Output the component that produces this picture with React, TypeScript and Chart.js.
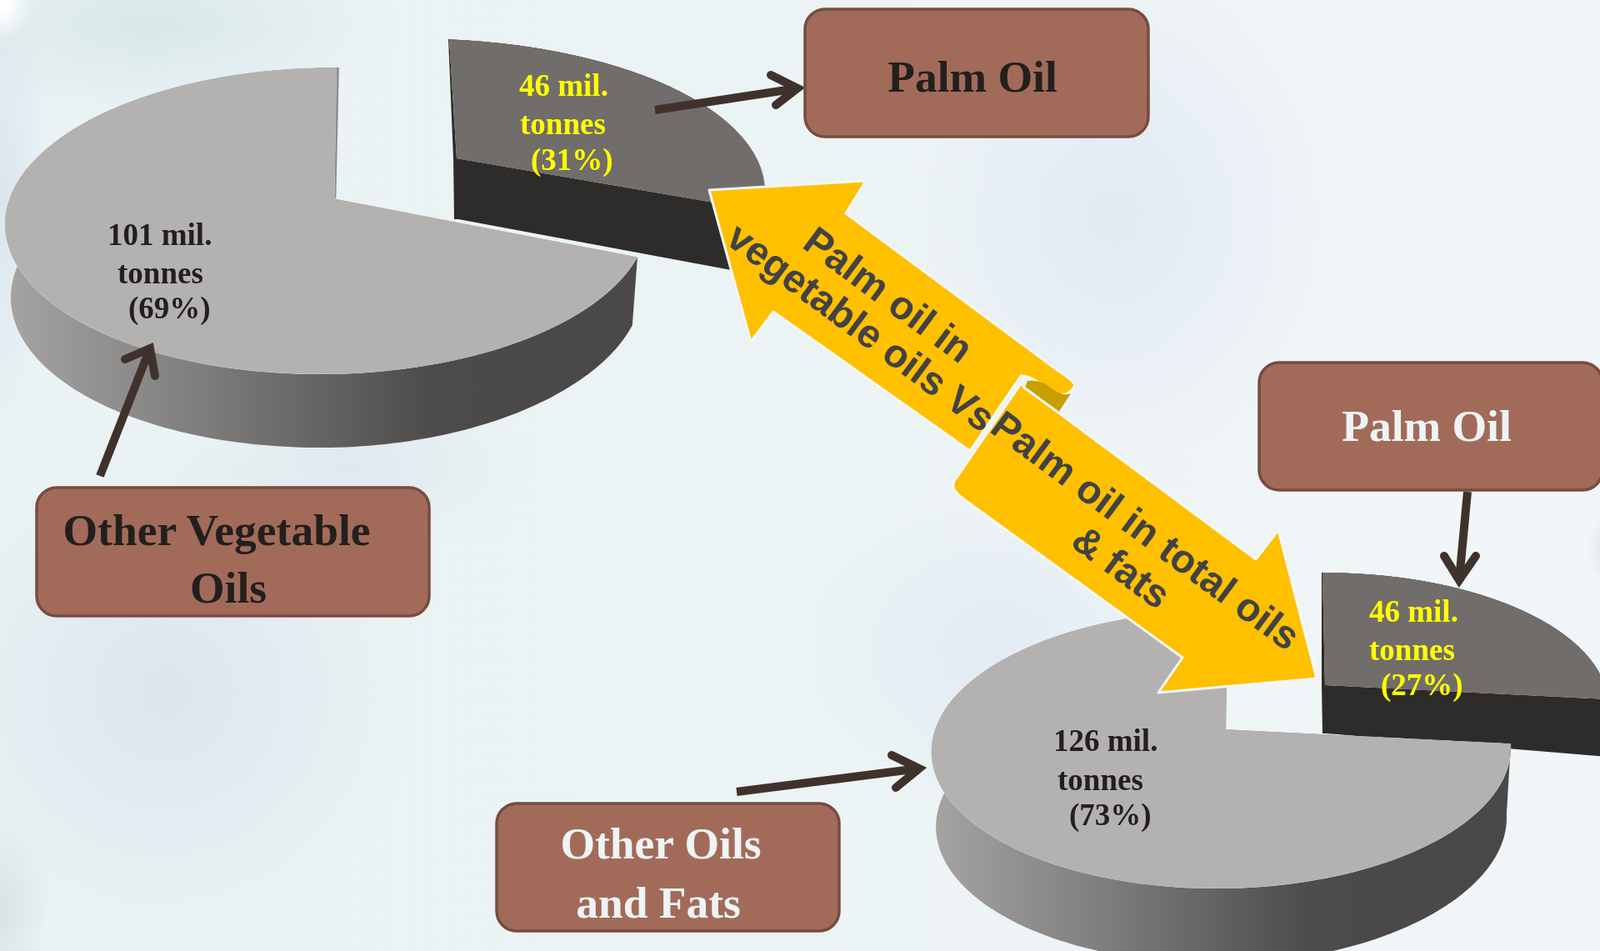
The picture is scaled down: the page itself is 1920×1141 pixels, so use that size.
import React, { useEffect, useRef } from "react";
import { Chart, registerables } from "chart.js";

Chart.register(...registerables);

// Production figures, million tonnes
const vegCategories = ["Palm Oil", "Other Vegetable Oils"];
const vegValues = [46, 101];
const totalCategories = ["Palm Oil", "Other Oils and Fats"];
const totalValues = [46, 126];

const WIDTH = 1920;
const HEIGHT = 1141;
const SIZE = 1400; // pie canvas edge, before the tilt is applied
const RADIUS = 420;

type Pt = [number, number];

// Least-squares projective map from the unit pie plane to page pixels.
function fitHomography(src: Pt[], dst: Pt[]): number[] {
  const rows: number[][] = [];
  src.forEach(([x, y], i) => {
    const [u, v] = dst[i];
    rows.push([x, y, 1, 0, 0, 0, -u * x, -u * y, u]);
    rows.push([0, 0, 0, x, y, 1, -v * x, -v * y, v]);
  });
  const m: number[][] = [];
  for (let a = 0; a < 8; a++) {
    const row: number[] = [];
    for (let b = 0; b < 9; b++) {
      let sum = 0;
      for (const r of rows) sum += r[a] * r[b];
      row.push(sum);
    }
    m.push(row);
  }
  for (let c = 0; c < 8; c++) {
    let p = c;
    for (let r = c + 1; r < 8; r++) if (Math.abs(m[r][c]) > Math.abs(m[p][c])) p = r;
    [m[c], m[p]] = [m[p], m[c]];
    for (let r = 0; r < 8; r++) {
      if (r === c) continue;
      const f = m[r][c] / m[c][c];
      for (let k = c; k < 9; k++) m[r][k] -= f * m[c][k];
    }
  }
  return [...m.map((row, i) => row[8] / row[i]), 1];
}

const apply = (h: number[], x: number, y: number): Pt => {
  const w = h[6] * x + h[7] * y + h[8];
  return [(h[0] * x + h[1] * y + h[2]) / w, (h[3] * x + h[4] * y + h[5]) / w];
};

const polar = (deg: number): Pt => [Math.sin((deg * Math.PI) / 180), -Math.cos((deg * Math.PI) / 180)];

interface PieLayout {
  values: number[];
  categories: string[];
  // page positions of the large slice: apex, top, bottom, left, cut edge
  apex: Pt;
  top: Pt;
  bottom: Pt;
  left: Pt;
  edge: Pt;
  // page positions of the pulled-out slice: apex, top, middle of the arc, far corner
  sApex: Pt;
  sTop: Pt;
  sMid: Pt;
  sEnd: Pt;
  sDepth: number;
  sDepthFar: number;
  sEdge: Pt;
  depth: number;
  depthRight: number;
  shrink: number;
  sliver: boolean;
  gradient: [number, number];
}

const vegLayout: PieLayout = {
  values: vegValues,
  categories: vegCategories,
  apex: [401, 239],
  top: [404, 81],
  bottom: [398, 449],
  left: [11, 240],
  edge: [765, 308],
  sApex: [548, 190],
  sTop: [539, 47],
  sMid: [817, 110],
  sEnd: [915, 253],
  sDepth: 73,
  sDepthFar: 78,
  sEdge: [539, 47],
  depth: 88,
  depthRight: 82,
  shrink: 0.983,
  sliver: true,
  gradient: [20, 640],
};

const totalLayout: PieLayout = {
  values: totalValues,
  categories: totalCategories,
  apex: [1471, 875],
  top: [1474, 732],
  bottom: [1468, 1066],
  left: [1122, 876],
  edge: [1813, 892],
  sApex: [1590, 822],
  sTop: [1587, 687],
  sMid: [1815, 727],
  sEnd: [1930, 839],
  sDepth: 58,
  sDepthFar: 69,
  sEdge: [1587, 687],
  depth: 90,
  depthRight: 85,
  shrink: 0.985,
  sliver: false,
  gradient: [1130, 1680],
};

const center = SIZE / 2;
const unitScale = 1 / RADIUS;

// Tilts a pie canvas with CSS so its flat circle lands on the fitted plane.
function tiltCanvas(canvas: HTMLCanvasElement, h: number[]) {
  const c = center;
  const s = unitScale;
  const a = h[0] * s, b = h[1] * s, tx = h[2] - (h[0] + h[1]) * c * s;
  const d = h[3] * s, e = h[4] * s, ty = h[5] - (h[3] + h[4]) * c * s;
  const g = h[6] * s, i = h[7] * s, tw = h[8] - (h[6] + h[7]) * c * s;
  const m = [a / tw, d / tw, 0, g / tw, b / tw, e / tw, 0, i / tw, 0, 0, 1, 0, tx / tw, ty / tw, 0, 1];
  canvas.style.transformOrigin = "0 0";
  canvas.style.transform = `matrix3d(${m.join(",")})`;
}

// One face of a pie: both slices are laid out by the library, only `show` is painted.
function makeFace(
  canvas: HTMLCanvasElement,
  cfg: PieLayout,
  show: number,
  colors: string[],
  h: number[],
  paintWall: (project: (x: number, y: number) => Pt, arc: any) => void,
) {
  tiltCanvas(canvas, h);
  const project = (px: number, py: number) => apply(h, (px - center) * unitScale, (py - center) * unitScale);
  return new Chart(canvas, {
    type: "pie",
    data: {
      labels: cfg.categories,
      datasets: [
        {
          data: cfg.values,
          backgroundColor: colors.map((col, i) => (i === show ? col : "rgba(0,0,0,0)")),
          borderWidth: 0,
        },
      ],
    },
    options: {
      animation: false,
      responsive: false,
      radius: RADIUS,
      layout: { padding: 0 },
      plugins: { legend: { display: false }, tooltip: { enabled: false } },
    },
    plugins: [
      {
        id: "pieWall",
        afterDatasetsDraw(chart: Chart) {
          paintWall(project, chart.getDatasetMeta(0).data[show]);
        },
      },
    ],
  } as any);
}

function makePie(main: HTMLCanvasElement, slice: HTMLCanvasElement, under: HTMLCanvasElement, cfg: PieLayout) {
  const ctx = under.getContext("2d")!;
  const splitDeg = (360 * cfg.values[0]) / (cfg.values[0] + cfg.values[1]);
  const colors = ["#716d6a", "#b3b2b0"];

  const sliceH = fitHomography(
    [[0, 0], polar(0), polar(splitDeg / 2), polar(splitDeg)],
    [cfg.sApex, cfg.sTop, cfg.sMid, cfg.sEnd],
  );
  const mainH = fitHomography(
    [[0, 0], polar(0), polar(180), polar(270), polar(splitDeg)],
    [cfg.apex, cfg.top, cfg.bottom, cfg.left, cfg.edge],
  );

  // Dark cut face under the pulled-out slice, with the sliver along its upper edge
  const sliceChart = makeFace(slice, cfg, 0, colors, sliceH, (project, arc) => {
    const a = project(arc.x, arc.y);
    const end = project(
      arc.x + Math.cos(arc.endAngle) * arc.outerRadius,
      arc.y + Math.sin(arc.endAngle) * arc.outerRadius,
    );
    ctx.fillStyle = "#2d2c2a";
    ctx.beginPath();
    ctx.moveTo(a[0], a[1]);
    ctx.lineTo(end[0], end[1]);
    ctx.lineTo(end[0], end[1] + cfg.sDepthFar);
    ctx.lineTo(a[0] + 2, a[1] + cfg.sDepth);
    ctx.lineTo(a[0] - 3, a[1] + cfg.sDepth);
    ctx.lineTo(a[0] - 4, a[1]);
    ctx.lineTo(cfg.sEdge[0] - 1, cfg.sEdge[1]);
    ctx.lineTo(cfg.sEdge[0], cfg.sEdge[1]);
    ctx.closePath();
    ctx.fill();
  });

  // Curved outer wall of the large slice
  const mainChart = makeFace(main, cfg, 1, colors, mainH, (project, arc) => {
    const cx = cfg.apex[0];
    const drop = (p: Pt): Pt => {
      const t = Math.max(0, (p[0] - cx) / (cfg.edge[0] - cx));
      return [cx + (p[0] - cx) * cfg.shrink, p[1] + cfg.depth - (cfg.depth - cfg.depthRight) * t * t];
    };
    const from = arc.startAngle;
    const to = Math.PI + 0.25;
    const outer: Pt[] = [];
    for (let k = 0; k <= 140; k++) {
      const ang = from + ((to - from) * k) / 140;
      outer.push(project(arc.x + Math.cos(ang) * arc.outerRadius, arc.y + Math.sin(ang) * arc.outerRadius));
    }
    const grad = ctx.createLinearGradient(cfg.gradient[0], 0, cfg.gradient[1], 0);
    grad.addColorStop(0, "#a3a2a0");
    grad.addColorStop(0.35, "#7f7e7c");
    grad.addColorStop(0.8, "#4d4c4a");
    grad.addColorStop(1, "#4a4947");
    ctx.fillStyle = grad;
    ctx.beginPath();
    outer.forEach((p, k) => (k ? ctx.lineTo(p[0], p[1]) : ctx.moveTo(p[0], p[1])));
    [...outer].reverse().forEach((p) => {
      const q = drop(p);
      ctx.lineTo(q[0], q[1]);
    });
    ctx.closePath();
    ctx.fill();

    if (cfg.sliver) {
      const t = project(arc.x, arc.y - arc.outerRadius);
      const o = project(arc.x, arc.y);
      ctx.fillStyle = "#8f8e8c";
      ctx.beginPath();
      ctx.moveTo(t[0], t[1]);
      ctx.lineTo(t[0] + 3, t[1]);
      ctx.lineTo(o[0] + 2, o[1]);
      ctx.lineTo(o[0], o[1]);
      ctx.closePath();
      ctx.fill();
    }
  });

  return [sliceChart, mainChart];
}

const pct = (vals: number[], i: number) => Math.round((vals[i] / (vals[0] + vals[1])) * 100);

const serif = "'Liberation Serif', serif";
const sans = "'Liberation Sans', sans-serif";
const INK = "#231f1e";
const PALE = "#eef4f5";
const YELLOW = "#ffff00";

// Rounded callout boxes with their captions
const boxes = [
  { x: 966, y: 11, w: 412, h: 153, color: INK, lines: [{ t: "Palm Oil", x: 1167, y: 110 }] },
  { x: 1511, y: 435, w: 412, h: 153, color: PALE, lines: [{ t: "Palm Oil", x: 1712, y: 529 }] },
  {
    x: 44, y: 585, w: 471, h: 154, color: INK,
    lines: [{ t: "Other Vegetable", x: 260, y: 654 }, { t: "Oils", x: 274, y: 723 }],
  },
  {
    x: 596, y: 964, w: 411, h: 153, color: PALE,
    lines: [{ t: "Other Oils", x: 793, y: 1030 }, { t: "and Fats", x: 790, y: 1101 }],
  },
];

// Pointer lines: shaft start, tip, and the two barb ends
const pointers: Pt[][] = [
  [[786, 132], [957, 106], [925, 90], [931, 126]],
  [[120, 571], [180, 418], [150, 431], [186, 451]],
  [[1761, 590], [1751, 696], [1733, 667], [1771, 667]],
  [[884, 950], [1103, 922], [1070, 906], [1075, 945]],
];

const pieLabels = [
  { t: `${vegValues[1]} mil.`, x: 129, y: 294, c: INK },
  { t: "tonnes", x: 141, y: 340, c: INK },
  { t: `(${pct(vegValues, 1)}%)`, x: 154, y: 382, c: INK },
  { t: `${vegValues[0]} mil.`, x: 623, y: 115, c: YELLOW },
  { t: "tonnes", x: 624, y: 161, c: YELLOW },
  { t: `(${pct(vegValues, 0)}%)`, x: 637, y: 204, c: YELLOW },
  { t: `${totalValues[1]} mil.`, x: 1264, y: 901, c: INK },
  { t: "tonnes", x: 1269, y: 948, c: INK },
  { t: `(${pct(totalValues, 1)}%)`, x: 1283, y: 990, c: INK },
  { t: `${totalValues[0]} mil.`, x: 1643, y: 746, c: YELLOW },
  { t: "tonnes", x: 1643, y: 792, c: YELLOW },
  { t: `(${pct(totalValues, 0)}%)`, x: 1657, y: 834, c: YELLOW },
];

const ribbonLabels = [
  { t: "Palm oil in", x: 961, y: 296, size: 47.5 },
  { t: "vegetable oils Vs", x: 869, y: 291, size: 47.5 },
  { t: "Palm oil in total oils", x: 1186, y: 517, size: 47.5 },
  { t: "& fats", x: 1283, y: 654, size: 47.5 },
];

const background = [
  "radial-gradient(ellipse 40px 50px at 0px 0px, #ffffff 30%, rgba(255,255,255,0) 100%)",
  "radial-gradient(ellipse 300px 110px at 180px 30px, rgba(205,224,226,0.6), rgba(205,224,226,0) 100%)",
  "radial-gradient(ellipse 60px 300px at 0px 230px, rgba(205,220,232,0.55), rgba(205,220,232,0) 100%)",
  "radial-gradient(ellipse 300px 300px at 200px 830px, rgba(214,224,234,0.7), rgba(214,224,234,0) 100%)",
  "radial-gradient(ellipse 60px 110px at 0px 1090px, rgba(205,214,216,0.6), rgba(205,214,216,0) 100%)",
  "radial-gradient(ellipse 260px 300px at 1340px 260px, rgba(224,232,243,0.9), rgba(224,232,243,0) 100%)",
  "radial-gradient(ellipse 240px 200px at 1200px 780px, rgba(224,232,243,0.8), rgba(224,232,243,0) 100%)",
  "radial-gradient(ellipse 220px 100px at 420px 560px, rgba(220,228,236,0.7), rgba(220,228,236,0) 100%)",
  "radial-gradient(ellipse 14px 40px at 1920px 660px, rgba(224,230,240,0.9), rgba(224,230,240,0) 100%)",
  "linear-gradient(90deg, #eaf2f4 0%, #ecf3f5 50%, #f2f6f9 100%)",
].join(",");

export default function App() {
  const underRef = useRef<HTMLCanvasElement>(null);
  const vegMain = useRef<HTMLCanvasElement>(null);
  const vegSlice = useRef<HTMLCanvasElement>(null);
  const totalMain = useRef<HTMLCanvasElement>(null);
  const totalSlice = useRef<HTMLCanvasElement>(null);

  useEffect(() => {
    const under = underRef.current!;
    under.getContext("2d")!.clearRect(0, 0, WIDTH, HEIGHT);
    const charts = [
      ...makePie(vegMain.current!, vegSlice.current!, under, vegLayout),
      ...makePie(totalMain.current!, totalSlice.current!, under, totalLayout),
    ];
    return () => charts.forEach((ch) => ch.destroy());
  }, []);

  const layer: React.CSSProperties = { position: "absolute", left: 0, top: 0 };
  const face: React.CSSProperties = { ...layer, width: SIZE, height: SIZE };

  return (
    <div
      style={{
        position: "absolute",
        left: 0,
        top: 0,
        width: WIDTH,
        height: HEIGHT,
        overflow: "hidden",
        background,
      }}
    >
      <canvas ref={underRef} width={WIDTH} height={HEIGHT} style={layer} />
      <canvas ref={vegSlice} width={SIZE} height={SIZE} style={face} />
      <canvas ref={vegMain} width={SIZE} height={SIZE} style={face} />
      <canvas ref={totalSlice} width={SIZE} height={SIZE} style={face} />
      <canvas ref={totalMain} width={SIZE} height={SIZE} style={face} />
      <svg width={WIDTH} height={HEIGHT} style={layer}>
        {pieLabels.map((l) => (
          <text key={l.t + l.x} x={l.x} y={l.y} fill={l.c} fontFamily={serif} fontWeight="bold" fontSize={37}>
            {l.t}
          </text>
        ))}
        {pointers.map((p, i) => (
          <g key={i} stroke="#3f322c" strokeWidth={10} fill="none" strokeLinejoin="miter">
            <line x1={p[0][0]} y1={p[0][1]} x2={p[1][0]} y2={p[1][1]} />
            <polyline
              strokeLinecap="round"
              points={`${p[2][0]},${p[2][1]} ${p[1][0]},${p[1][1]} ${p[3][0]},${p[3][1]}`}
            />
          </g>
        ))}
        {boxes.map((b, i) => (
          <g key={i}>
            <rect
              x={b.x}
              y={b.y}
              width={b.w}
              height={b.h}
              rx={24}
              fill="#a26b59"
              stroke="#774c40"
              strokeWidth={3.5}
            />
            {b.lines.map((l) => (
              <text
                key={l.t}
                x={l.x}
                y={l.y}
                textAnchor="middle"
                fill={b.color}
                fontFamily={serif}
                fontWeight="bold"
                fontSize={53.5}
              >
                {l.t}
              </text>
            ))}
          </g>
        ))}
        <g stroke="#f3f7f4" strokeWidth={3} strokeLinejoin="round">
          <path
            fill="#ffc000"
            d="M851,228 L1039,217 L1015,256 L1270,445 Q1290,458 1290,463 Q1280,480 1260,470 Q1240,451 1225,451 L1164,541 L928,374 L901,410 Z"
          />
          <path fill="#c99e00" stroke="none" d="M1233,457 Q1250,455 1262,466 Q1275,476 1285,472 L1270,495 L1228,470 Z" />
          <path
            fill="#ffc000"
            d="M1230,453 Q1222,458 1229,465 L1270,495 L1507,671 L1534,636 L1580,814 L1390,831 L1419,789 L1158,600 Q1142,588 1144,582 Q1144,576 1148,573 Z"
          />
        </g>
        {ribbonLabels.map((l) => (
          <text
            key={l.t}
            x={l.x}
            y={l.y}
            transform={`rotate(36.5 ${l.x} ${l.y})`}
            fill="#424242"
            fontFamily={sans}
            fontWeight="bold"
            fontSize={l.size}
          >
            {l.t}
          </text>
        ))}
      </svg>
    </div>
  );
}
